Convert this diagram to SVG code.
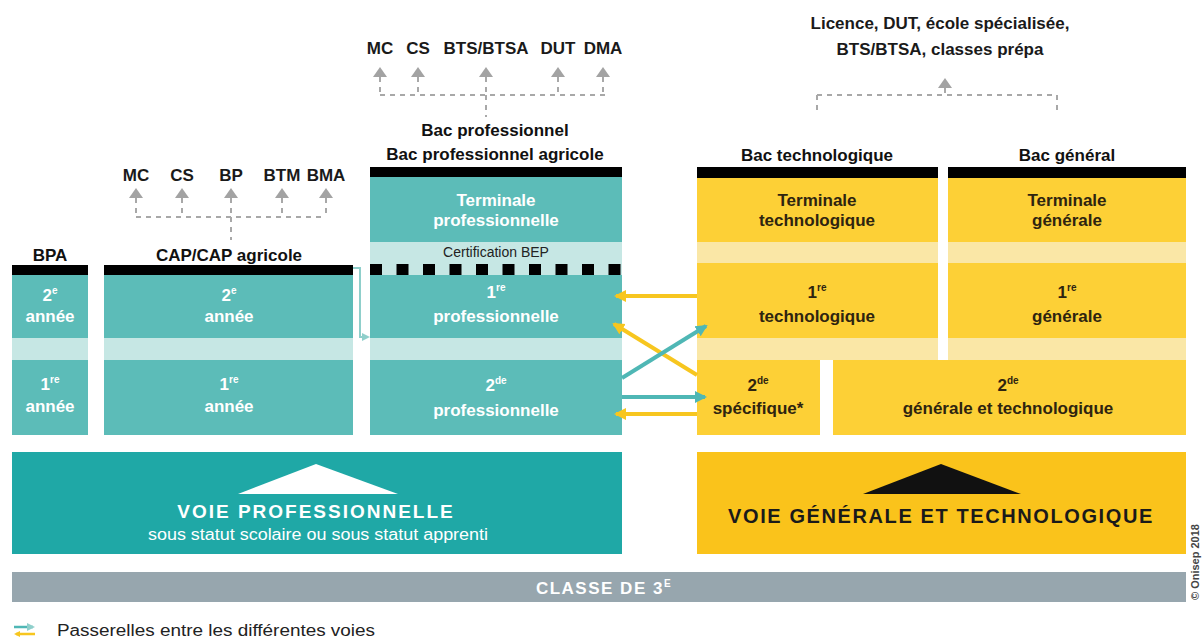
<svg xmlns="http://www.w3.org/2000/svg" width="1203" height="641" viewBox="0 0 1203 641">
  <defs>
    <style>
      .t{font-family:"Liberation Sans Narrow","Liberation Sans",Arial,sans-serif;font-weight:bold;text-anchor:middle}
      .n{font-weight:normal}
      .hd{font-size:17px;fill:#111}
      .top{font-size:17px;fill:#1a1a1a}
      .wt{font-size:17px;fill:#fff}
      .yt{font-size:17px;fill:#2e2410}
      .teal{fill:#5cbcb8}
      .tealL{fill:#c6e7e4}
      .yel{fill:#fdd036}
      .yelL{fill:#fae7a6}
      .bar{fill:#000}
      .dash{fill:none;stroke:#a8a8a8;stroke-width:2;stroke-dasharray:5 5}
      .py{fill:none;stroke:#f7c61f;stroke-width:4}
      .pt{fill:none;stroke:#4fb7b5;stroke-width:4}
    </style>
    <path id="tri" d="M-7,0 L0,-10 L7,0 Z" fill="#a3a3a3"/>
    <marker id="ahY" markerUnits="userSpaceOnUse" markerWidth="14" markerHeight="14" refX="10" refY="7" orient="auto">
      <path d="M0,1 L12,7 L0,13 Z" fill="#f7c61f"/>
    </marker>
    <marker id="ahT" markerUnits="userSpaceOnUse" markerWidth="14" markerHeight="14" refX="10" refY="7" orient="auto">
      <path d="M0,1 L12,7 L0,13 Z" fill="#4fb7b5"/>
    </marker>
    <marker id="ahS" markerUnits="userSpaceOnUse" markerWidth="10" markerHeight="10" refX="6" refY="5" orient="auto">
      <path d="M0,1 L8,5 L0,9 Z" fill="#8fcfcb"/>
    </marker>
  </defs>

  <rect width="1203" height="641" fill="#fff"/>

  <!-- diploma outlets after CAP / BPA -->
  <g id="outlets-cap">
    <text class="t top" x="136" y="181">MC</text>
    <text class="t top" x="182" y="181">CS</text>
    <text class="t top" x="231" y="181">BP</text>
    <text class="t top" x="282" y="181">BTM</text>
    <text class="t top" x="326" y="181">BMA</text>
    <use href="#tri" x="136" y="198"/>
    <use href="#tri" x="182" y="198"/>
    <use href="#tri" x="231" y="198"/>
    <use href="#tri" x="282" y="198"/>
    <use href="#tri" x="326" y="198"/>
  </g>

  <!-- diploma outlets after Bac pro -->
  <g id="outlets-bacpro">
    <text class="t top" x="380" y="54">MC</text>
    <text class="t top" x="418" y="54">CS</text>
    <text class="t top" x="486" y="54">BTS/BTSA</text>
    <text class="t top" x="558" y="54">DUT</text>
    <text class="t top" x="603" y="54">DMA</text>
    <use href="#tri" x="380" y="77"/>
    <use href="#tri" x="418" y="77"/>
    <use href="#tri" x="486" y="77"/>
    <use href="#tri" x="558" y="77"/>
    <use href="#tri" x="603" y="77"/>
  </g>

  <!-- higher education after Bac techno / général -->
  <g id="outlets-bacgt">
    <text class="t top" x="940" y="29">Licence, DUT, école spécialisée,</text>
    <text class="t top" x="940" y="55">BTS/BTSA, classes prépa</text>
    <use href="#tri" x="945" y="88"/>
  </g>

  <!-- BPA column -->
  <g id="bpa">
    <text class="t hd" x="50" y="261">BPA</text>
    <rect class="bar" x="12" y="265" width="76" height="10"/>
    <rect class="teal" x="12" y="275" width="76" height="63"/>
    <rect class="tealL" x="12" y="338" width="76" height="22"/>
    <rect class="teal" x="12" y="360" width="76" height="75"/>
    <text class="t wt" x="50" y="301">2<tspan font-size="10" dy="-7">e</tspan></text>
    <text class="t wt" x="50" y="322">année</text>
    <text class="t wt" x="50" y="390">1<tspan font-size="10" dy="-7">re</tspan></text>
    <text class="t wt" x="50" y="412">année</text>
  </g>

  <!-- CAP column -->
  <g id="cap">
    <text class="t hd" x="229" y="261">CAP/CAP agricole</text>
    <rect class="bar" x="104" y="265" width="249" height="10"/>
    <rect class="teal" x="104" y="275" width="249" height="63"/>
    <rect class="tealL" x="104" y="338" width="249" height="22"/>
    <rect class="teal" x="104" y="360" width="249" height="75"/>
    <text class="t wt" x="229" y="301">2<tspan font-size="10" dy="-7">e</tspan></text>
    <text class="t wt" x="229" y="322">année</text>
    <text class="t wt" x="229" y="390">1<tspan font-size="10" dy="-7">re</tspan></text>
    <text class="t wt" x="229" y="412">année</text>
  </g>

  <!-- Bac pro column -->
  <g id="bacpro">
    <text class="t hd" x="495" y="136">Bac professionnel</text>
    <text class="t hd" x="495" y="160">Bac professionnel agricole</text>
    <rect class="bar" x="370" y="167" width="252" height="10"/>
    <rect class="teal" x="370" y="177" width="252" height="65"/>
    <rect class="tealL" x="370" y="242" width="252" height="33"/>
    <line x1="370" y1="269.5" x2="622" y2="269.5" stroke="#000" stroke-width="11" stroke-dasharray="12 14.5"/>
    <rect class="teal" x="370" y="275" width="252" height="63"/>
    <rect class="tealL" x="370" y="338" width="252" height="22"/>
    <rect class="teal" x="370" y="360" width="252" height="75"/>
    <text class="t wt" x="496" y="206">Terminale</text>
    <text class="t wt" x="496" y="226">professionnelle</text>
    <text class="t n" x="496" y="257" font-size="14" fill="#222">Certification BEP</text>
    <text class="t wt" x="496" y="298">1<tspan font-size="10" dy="-7">re</tspan></text>
    <text class="t wt" x="496" y="322">professionnelle</text>
    <text class="t wt" x="496" y="391">2<tspan font-size="10" dy="-7">de</tspan></text>
    <text class="t wt" x="496" y="416">professionnelle</text>
  </g>

  <!-- Bac technologique column -->
  <g id="bactechno">
    <text class="t hd" x="817" y="161">Bac technologique</text>
    <rect class="bar" x="697" y="167" width="241" height="11"/>
    <rect class="yel" x="697" y="178" width="241" height="64"/>
    <rect class="yelL" x="697" y="242" width="241" height="21"/>
    <rect class="yel" x="697" y="263" width="241" height="75"/>
    <rect class="yelL" x="697" y="338" width="241" height="22"/>
    <text class="t yt" x="817" y="206">Terminale</text>
    <text class="t yt" x="817" y="226">technologique</text>
    <text class="t yt" x="817" y="298">1<tspan font-size="10" dy="-7">re</tspan></text>
    <text class="t yt" x="817" y="322">technologique</text>
  </g>

  <!-- Bac général column -->
  <g id="bacgeneral">
    <text class="t hd" x="1067" y="161">Bac général</text>
    <rect class="bar" x="948" y="167" width="238" height="11"/>
    <rect class="yel" x="948" y="178" width="238" height="64"/>
    <rect class="yelL" x="948" y="242" width="238" height="21"/>
    <rect class="yel" x="948" y="263" width="238" height="75"/>
    <rect class="yelL" x="948" y="338" width="238" height="22"/>
    <text class="t yt" x="1067" y="206">Terminale</text>
    <text class="t yt" x="1067" y="226">générale</text>
    <text class="t yt" x="1067" y="298">1<tspan font-size="10" dy="-7">re</tspan></text>
    <text class="t yt" x="1067" y="322">générale</text>
  </g>

  <!-- seconde spécifique -->
  <g id="seconde-specifique">
    <rect class="yel" x="697" y="360" width="123" height="75"/>
    <text class="t yt" x="758" y="391">2<tspan font-size="10" dy="-7">de</tspan></text>
    <text class="t yt" x="758" y="414">spécifique*</text>
  </g>

  <!-- seconde générale et technologique -->
  <g id="seconde-gt">
    <rect class="yel" x="833" y="360" width="353" height="75"/>
    <text class="t yt" x="1008" y="391">2<tspan font-size="10" dy="-7">de</tspan></text>
    <text class="t yt" x="1008" y="414">générale et technologique</text>
  </g>

  <!-- voie professionnelle -->
  <g id="voie-pro">
    <rect x="12" y="452" width="610" height="102" fill="#1fa8a6"/>
    <polygon points="238,494 316,464 398,494" fill="#fff"/>
    <text class="t" x="316" y="518" font-size="19" fill="#fff" letter-spacing="2">VOIE PROFESSIONNELLE</text>
    <text class="t n" x="318" y="540" font-size="16" fill="#fff" textLength="340" lengthAdjust="spacingAndGlyphs">sous statut scolaire ou sous statut apprenti</text>
  </g>

  <!-- voie générale et technologique -->
  <g id="voie-gt">
    <rect x="697" y="452" width="489" height="102" fill="#fac31b"/>
    <polygon points="863,494 941,464 1021,494" fill="#111"/>
    <text class="t" x="941" y="523" font-size="20" fill="#1a1a1a" letter-spacing="1.6">VOIE GÉNÉRALE ET TECHNOLOGIQUE</text>
  </g>

  <!-- classe de 3e -->
  <g id="classe-3e">
    <rect x="12" y="572" width="1174" height="30" fill="#97a6ae"/>
    <text class="t" x="604" y="594" font-size="17" fill="#fff" letter-spacing="1.5">CLASSE DE 3<tspan font-size="10" dy="-7">E</tspan></text>
  </g>

  <!-- connectors -->
  <g id="connectors">
    <!-- dotted brackets to diploma outlets -->
    <path class="dash" d="M136,198 V217 M182,198 V217 M231,198 V217 M282,198 V217 M326,198 V217 M136,217 H326 M231,217 V240"/>
    <path class="dash" d="M380,77 V95 M418,77 V95 M486,77 V95 M558,77 V95 M603,77 V95 M380,95 H605 M486,95 V117"/>
    <path class="dash" d="M945,88 V95 M817,95 H1057 M817,95 V113 M1057,95 V113"/>
    <!-- CAP to 1re professionnelle -->
    <path d="M353,268 H360 V337 H368" fill="none" stroke="#8fcfcb" stroke-width="2" marker-end="url(#ahS)"/>
    <!-- passerelles -->
    <path class="py" d="M697,296 H616" marker-end="url(#ahY)"/>
    <path class="py" d="M697,375 L614,324" marker-end="url(#ahY)"/>
    <path class="pt" d="M622,378 L706,326" marker-end="url(#ahT)"/>
    <path class="pt" d="M622,397 H705" marker-end="url(#ahT)"/>
    <path class="py" d="M697,414 H616" marker-end="url(#ahY)"/>
  </g>

  <!-- legend -->
  <g id="legend">
    <path d="M14,627 H33" fill="none" stroke="#4fb7b5" stroke-width="2.5" marker-end="url(#ahS)"/>
    <path d="M35,634 H16" fill="none" stroke="#f7c61f" stroke-width="2.5"/>
    <path d="M14,634 L20,631 L20,637 Z" fill="#f7c61f"/>
    <text x="57" y="636" font-family="'Liberation Sans Narrow','Liberation Sans',Arial,sans-serif" font-size="16" fill="#222" textLength="318" lengthAdjust="spacingAndGlyphs">Passerelles entre les différentes voies</text>
  </g>

  <text x="1199" y="600" transform="rotate(-90 1199 600)" font-family="'Liberation Sans',Arial,sans-serif" font-size="11" font-weight="bold" fill="#444">© Onisep 2018</text>
</svg>
